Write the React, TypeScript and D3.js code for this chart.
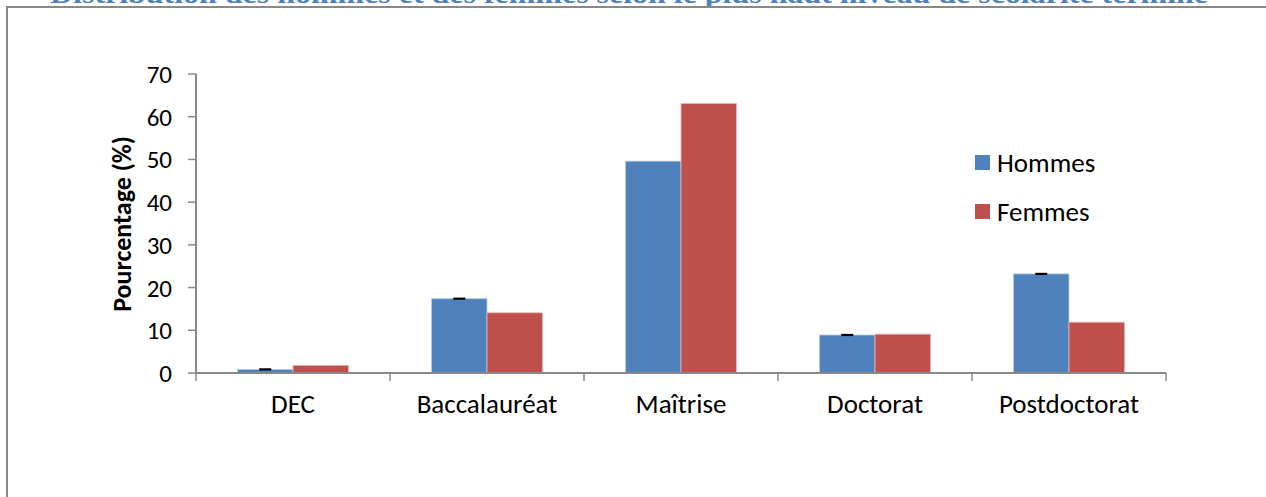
import React from "react";
import * as d3 from "d3";

const categories = ["DEC", "Baccalauréat", "Maîtrise", "Doctorat", "Postdoctorat"];
const seriesNames = ["Hommes", "Femmes"];
const hommes = [0.85, 17.4, 49.6, 8.9, 23.2];
const femmes = [1.8, 14.1, 63.1, 9.1, 11.9];
const hommesErr = [0.05, 0.05, 0, 0.05, 0.05];
const yTicks = [0, 10, 20, 30, 40, 50, 60, 70];
const title = "Distribution des hommes et des femmes selon le plus haut niveau de scolarité terminé";
const yLabel = "Pourcentage (%)";

const W = 1266;
const H = 497;
const colors = ["#4F81BD", "#C0504D"];
const edges = ["#B9CDE5", "#E6B9B8"];
const axisColor = "#898989";
const font = "Carlito, Calibri, Lato, sans-serif";

export default function App() {
  const x0 = 196, x1 = 1166, yTop = 74, yBase = 373;
  const x = d3.scaleBand<string>().domain(categories).range([x0, x1]).paddingInner(0.428).paddingOuter(0.214);
  const xs = d3.scaleBand<string>().domain(seriesNames).range([0, x.bandwidth()]);
  const y = d3.scaleLinear().domain([0, 70]).range([yBase, yTop]);
  const step = x.step();
  const series = [hommes, femmes];

  return (
    <svg width={W} height={H} style={{ position: "absolute", left: 0, top: 0, background: "#fff" }}>
      <text x={50} y={2.5} fill="#4F81BD" fontFamily="'Liberation Serif', 'Times New Roman', serif" fontWeight="bold" fontSize={28} textLength={1158} lengthAdjust="spacingAndGlyphs">{title}</text>
      <rect x={7} y={7} width={W + 20} height={H + 20} fill="#fff" stroke={axisColor} strokeWidth={2} />

      {/* y axis */}
      <line x1={x0} x2={x0} y1={yTop} y2={yBase} stroke={axisColor} strokeWidth={2} />
      {yTicks.map((t) => (
        <g key={t}>
          <line x1={x0 - 8} x2={x0} y1={y(t)} y2={y(t)} stroke={axisColor} strokeWidth={1.5} />
          <text x={172} y={y(t)} dy="0.36em" textAnchor="end" fontFamily={font} fontSize={25} fill="#000">{t}</text>
        </g>
      ))}
      <text transform={`translate(131,224) rotate(-90)`} textAnchor="middle" fontFamily={font} fontWeight="bold" fontSize={26} fill="#000">{yLabel}</text>

      {/* bars */}
      {categories.map((c, i) => (
        <g key={c}>
          {series.map((s, j) => (
            <rect key={j} x={(x(c) as number) + (xs(seriesNames[j]) as number)} y={y(s[i])} width={xs.bandwidth()} height={yBase - y(s[i])} fill={colors[j]} stroke={edges[j]} strokeWidth={0.8} />
          ))}
          {hommesErr[i] > 0 && (
            <line x1={(x(c) as number) + (xs("Hommes") as number) + xs.bandwidth() / 2 - 6} x2={(x(c) as number) + (xs("Hommes") as number) + xs.bandwidth() / 2 + 6} y1={y(hommes[i])} y2={y(hommes[i])} stroke="#000" strokeWidth={2.2} />
          )}
          <text x={(x(c) as number) + x.bandwidth() / 2} y={413} textAnchor="middle" fontFamily={font} fontSize={27} fill="#000">{c}</text>
        </g>
      ))}

      {/* x axis */}
      <line x1={x0} x2={x1} y1={yBase} y2={yBase} stroke={axisColor} strokeWidth={2} />
      {d3.range(categories.length + 1).map((k) => (
        <line key={k} x1={x0 + k * step} x2={x0 + k * step} y1={yBase} y2={yBase + 8} stroke={axisColor} strokeWidth={1.5} />
      ))}

      {/* legend */}
      {seriesNames.map((n, j) => (
        <g key={n} transform={`translate(975,${155 + j * 49})`}>
          <rect x={0} y={0} width={15} height={15} fill={colors[j]} />
          <text x={22} y={7.5} dy="0.36em" fontFamily={font} fontSize={27} fill="#000">{n}</text>
        </g>
      ))}
    </svg>
  );
}
